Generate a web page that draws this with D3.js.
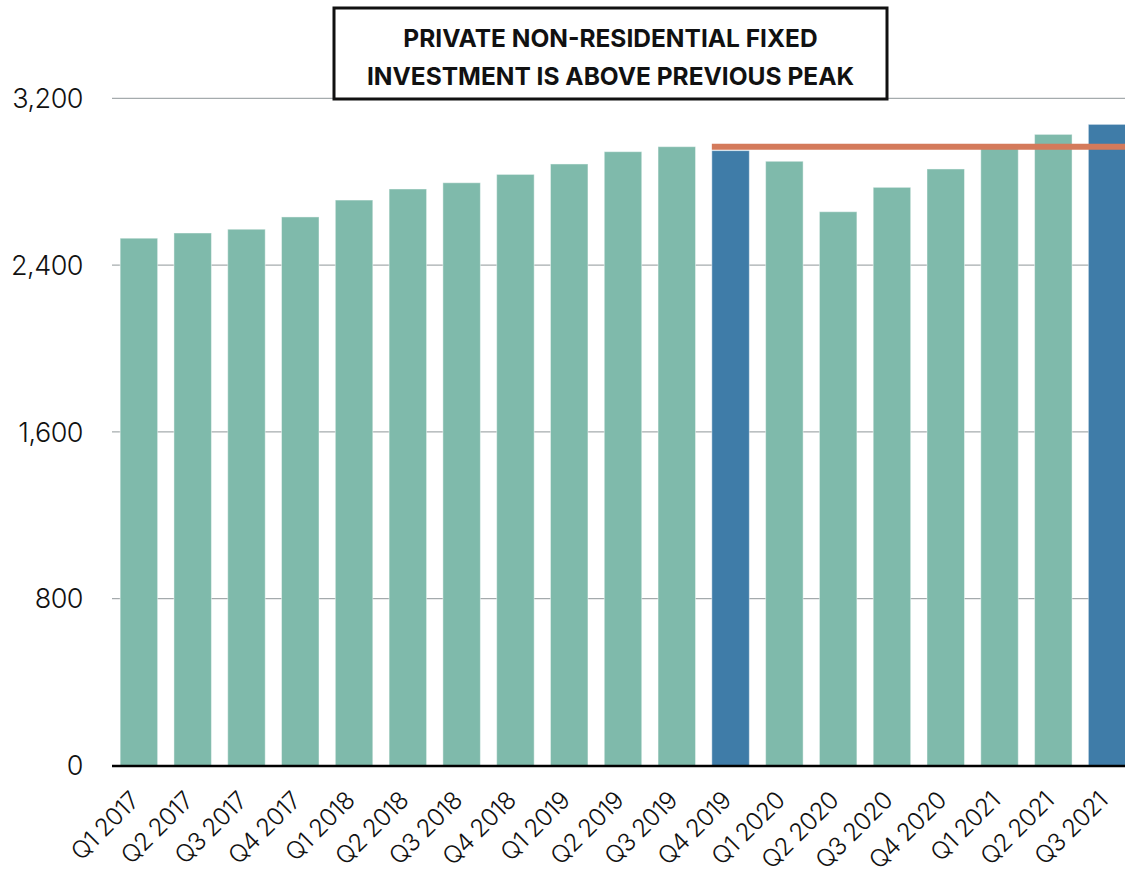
<!DOCTYPE html>
<html>
<head>
<meta charset="utf-8">
<script src="https://cdn.jsdelivr.net/npm/d3@7"></script>
<style>
  html, body { margin: 0; padding: 0; background: #fff; }
  svg { display: block; }
  text { font-family: "Inter", "Lato", sans-serif; }
</style>
</head>
<body>
<svg id="chart" width="1125" height="876"></svg>
<script>
// Quarterly private non-residential fixed investment (billions of dollars)
const quarters = [
  "Q1 2017", "Q2 2017", "Q3 2017", "Q4 2017",
  "Q1 2018", "Q2 2018", "Q3 2018", "Q4 2018",
  "Q1 2019", "Q2 2019", "Q3 2019", "Q4 2019",
  "Q1 2020", "Q2 2020", "Q3 2020", "Q4 2020",
  "Q1 2021", "Q2 2021", "Q3 2021"
];
const investment = [
  2529, 2554, 2572, 2631,
  2712, 2765, 2795, 2835,
  2885, 2944, 2968, 2949,
  2898, 2656, 2773, 2861,
  2962, 3027, 3075
];
// Quarters drawn in the darker highlight colour
const highlighted = ["Q4 2019", "Q3 2021"];
// Previous peak level and the quarter where the reference line begins
const previousPeak = 2968;
const peakLineStart = "Q4 2019";
const yTicks = [0, 800, 1600, 2400, 3200];
const titleLines = ["PRIVATE NON-RESIDENTIAL FIXED", "INVESTMENT IS ABOVE PREVIOUS PEAK"];

const svg = d3.select("#chart");
const plotLeft = 112, plotRight = 1134, plotTop = 98.3, plotBottom = 765.5;

const x = d3.scaleBand()
  .domain(quarters)
  .range([plotLeft, plotRight])
  .paddingInner(0.303)
  .paddingOuter(0.1515);

const y = d3.scaleLinear()
  .domain([0, 3200])
  .range([plotBottom, plotTop]);

// Horizontal gridlines
svg.append("g")
  .selectAll("line")
  .data(yTicks.filter(d => d > 0))
  .join("line")
  .attr("x1", plotLeft)
  .attr("x2", 1125)
  .attr("y1", d => y(d))
  .attr("y2", d => y(d))
  .attr("stroke", "#8f9799")
  .attr("stroke-width", 1);

// Y tick labels
svg.append("g")
  .selectAll("text")
  .data(yTicks)
  .join("text")
  .attr("x", 83)
  .attr("y", d => y(d))
  .attr("dy", "0.36em")
  .attr("text-anchor", "end")
  .attr("font-size", 27)
  .attr("font-weight", 300)
  .attr("letter-spacing", -0.5)
  .attr("fill", "#111")
  .text(d => d3.format(",")(d));

// Bars
svg.append("g")
  .selectAll("rect")
  .data(quarters)
  .join("rect")
  .attr("x", d => x(d))
  .attr("width", x.bandwidth())
  .attr("y", (d, i) => y(investment[i]))
  .attr("height", (d, i) => y(0) - y(investment[i]))
  .attr("fill", d => highlighted.includes(d) ? "#3f7ca8" : "#7fbaab")
  .attr("stroke", "rgba(255,255,255,0.45)")
  .attr("stroke-width", 1);

// Previous-peak reference line
svg.append("line")
  .attr("x1", x(peakLineStart))
  .attr("x2", 1125)
  .attr("y1", y(previousPeak))
  .attr("y2", y(previousPeak))
  .attr("stroke", "#d47a5b")
  .attr("stroke-width", 6);

// X axis baseline
svg.append("line")
  .attr("x1", plotLeft)
  .attr("x2", 1125)
  .attr("y1", y(0) + 0.5)
  .attr("y2", y(0) + 0.5)
  .attr("stroke", "#000")
  .attr("stroke-width", 2.5);

// Rotated quarter labels
svg.append("g")
  .selectAll("text")
  .data(quarters)
  .join("text")
  .attr("transform", d => `translate(${x(d) + x.bandwidth() / 2 + 2},${802}) rotate(-45)`)
  .attr("text-anchor", "end")
  .attr("font-size", 24.5)
  .attr("font-weight", 300)
  .attr("letter-spacing", -0.6)
  .attr("fill", "#111")
  .text(d => d);

// Title box
const title = svg.append("g");
title.append("rect")
  .attr("x", 334)
  .attr("y", 8)
  .attr("width", 553)
  .attr("height", 91)
  .attr("fill", "#fff")
  .attr("stroke", "#111")
  .attr("stroke-width", 3);
title.selectAll("text")
  .data(titleLines)
  .join("text")
  .attr("x", 610.5)
  .attr("y", (d, i) => 47 + i * 37.5)
  .attr("text-anchor", "middle")
  .attr("font-size", 24.5)
  .attr("font-weight", 700)
  .attr("fill", "#111")
  .text(d => d);
</script>
</body>
</html>
